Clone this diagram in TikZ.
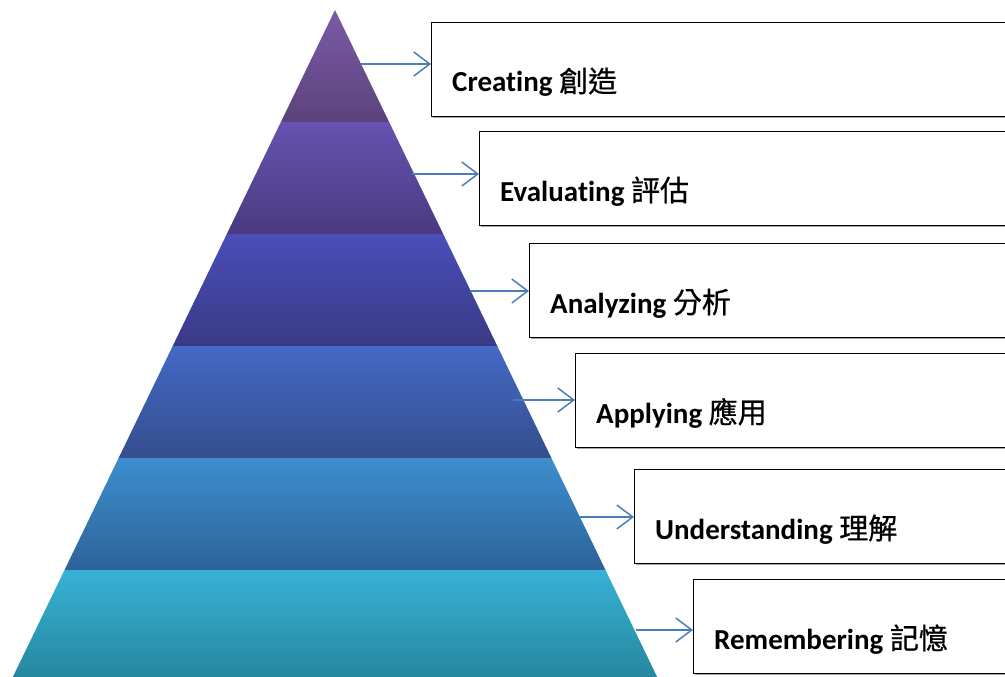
\documentclass[tikz,border=0pt]{standalone}
\usepackage{fontspec}
\setmainfont{Carlito}[Ligatures=NoCommon]
\newfontfamily\cjk{Noto Sans CJK TC}[FakeBold=0.7]
\usetikzlibrary{arrows.meta,calc}
\definecolor{arrowblue}{HTML}{4A7EBB}
\definecolor{aT}{HTML}{7A5BA6}\definecolor{aB}{HTML}{5C427C}
\definecolor{bT}{HTML}{6652B0}\definecolor{bB}{HTML}{4A3A80}
\definecolor{cT}{HTML}{4A4EB8}\definecolor{cB}{HTML}{393A86}
\definecolor{dT}{HTML}{4468C4}\definecolor{dB}{HTML}{344F8E}
\definecolor{eT}{HTML}{3D8ECE}\definecolor{eB}{HTML}{2C6398}
\definecolor{fT}{HTML}{37B2D6}\definecolor{fB}{HTML}{25879E}
\newcommand{\zh}[1]{{\cjk\mdseries #1}}
\tikzset{
  lvlbox/.style={draw=black, line width=1.1pt, fill=white, rectangle, anchor=north west,
    minimum width=600pt, minimum height=94pt, inner sep=0pt},
  lvltext/.style={anchor=base west, inner sep=0pt, font=\fontsize{29}{32}\selectfont\bfseries},
  conn/.style={draw=arrowblue, line width=1.5pt, -{Straight Barb[length=16pt,width=24pt,line width=1.5pt]}},
  shadowline/.style={draw=black!35, line width=1.5pt}
}
\begin{document}
\begin{tikzpicture}[x=1pt,y=-1pt]
\useasboundingbox (0,0) rectangle (1005,677);
% pyramid bands
\def\apx{335}\def\apy{10}\def\sl{0.483}
\foreach \ya/\yb/\ct/\cb in {10/122/aT/aB,122/234/bT/bB,234/346/cT/cB,346/458/dT/dB,458/570/eT/eB,570/677/fT/fB}{
  \pgfmathsetmacro{\wa}{\sl*(\ya-\apy)}
  \pgfmathsetmacro{\wb}{\sl*(\yb-\apy)}
  \shade[top color=\ct, bottom color=\cb]
    ({\apx-\wa},\ya) -- ({\apx+\wa},\ya) -- ({\apx+\wb},\yb) -- ({\apx-\wb},\yb) -- cycle;
}
% boxes
\foreach \n/\x/\y in {1/431/22,2/479/131,3/529/243,4/575/353,5/634/469,6/693/579}{
  \draw[shadowline] (\x+2,\y+95.5) -- (1010,\y+95.5);
  \node[lvlbox] (b\n) at (\x,\y) {};
}
\node[lvltext] (t1) at ($(b1.north west)+(21,70)$) {Creating \zh{創造}};
\node[lvltext] (t2) at ($(b2.north west)+(21,70)$) {Evaluating \zh{評估}};
\node[lvltext] (t3) at ($(b3.north west)+(21,70)$) {Analyzing \zh{分析}};
\node[lvltext] (t4) at ($(b4.north west)+(21,70)$) {Applying \zh{應用}};
\node[lvltext] (t5) at ($(b5.north west)+(21,70)$) {Understanding \zh{理解}};
\node[lvltext] (t6) at ($(b6.north west)+(21,70)$) {Remembering \zh{記憶}};
% arrow start points on the pyramid
\coordinate (p1) at (361,64);
\coordinate (p2) at (412,174);
\coordinate (p3) at (470,291);
\coordinate (p4) at (513,400);
\coordinate (p5) at (580,517);
\coordinate (p6) at (636,630);
\foreach \n in {1,...,6}{
  \draw[conn] (p\n) -- (p\n -| b\n.west);
}
\end{tikzpicture}
\end{document}
